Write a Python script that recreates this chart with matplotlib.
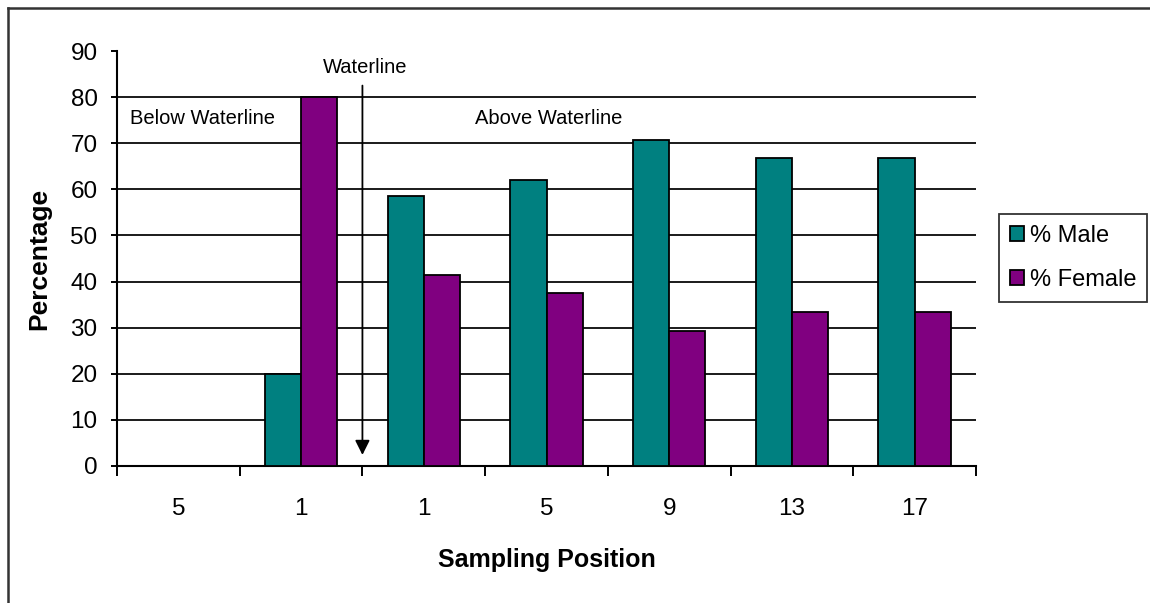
import numpy as np
import matplotlib.pyplot as plt
from matplotlib.lines import Line2D
from matplotlib.patches import Patch

plt.rcParams['font.family'] = ['Liberation Sans', 'DejaVu Sans']

positions = ['5', '1', '1', '5', '9', '13', '17']
male = [0, 20, 58.5, 62, 70.7, 66.7, 66.7]
female = [0, 80, 41.5, 37.5, 29.3, 33.3, 33.3]

teal = '#008080'
purple = '#800080'

fig = plt.figure(figsize=(11.5, 6.03), dpi=100)
ax = fig.add_axes([117 / 1150, 1 - 466 / 603, (976 - 117) / 1150, (466 - 51) / 603])

x = np.arange(len(positions))
w = 0.295
ax.bar(x - w / 2, male, w, color=teal, edgecolor='black', linewidth=1.3, zorder=3)
ax.bar(x + w / 2, female, w, color=purple, edgecolor='black', linewidth=1.3, zorder=3)

ax.set_xlim(-0.5, len(positions) - 0.5)
ax.set_ylim(0, 90)
ax.set_yticks(np.arange(0, 91, 10))
for v in range(10, 90, 10):
    ax.axhline(v, color='#1a1a1a', linewidth=1.4, zorder=1)

ax.set_xticks(x)
ax.set_xticklabels(positions)
ax.set_xticks(np.arange(-0.5, len(positions)), minor=True)
ax.tick_params(axis='x', which='major', length=0, pad=23, labelsize=17.5)
ax.tick_params(axis='x', which='minor', length=7, width=1.4, direction='out')
ax.tick_params(axis='y', length=4, width=1.4, pad=10, labelsize=17.5)

for s in ['top', 'right']:
    ax.spines[s].set_visible(False)
for s in ['left', 'bottom']:
    ax.spines[s].set_linewidth(1.5)

ax.set_xlabel('Sampling Position', fontsize=18, fontweight='bold', labelpad=20)
ax.set_ylabel('Percentage', fontsize=19, fontweight='bold', labelpad=14)

# waterline marker
ax.annotate('', xy=(1.5, 2.4), xytext=(1.5, 82.5),
            arrowprops=dict(arrowstyle='-|>', color='black', lw=1.3,
                            mutation_scale=22, shrinkA=0, shrinkB=0),
            zorder=4)
ax.text(1.52, 86.5, 'Waterline', ha='center', va='center', fontsize=14.5)
ax.text(0.2, 75.3, 'Below Waterline', ha='center', va='center', fontsize=14.5)
ax.text(3.02, 75.3, 'Above Waterline', ha='center', va='center', fontsize=14.5)

handles = [Patch(facecolor=teal, edgecolor='black', linewidth=1.3),
           Patch(facecolor=purple, edgecolor='black', linewidth=1.3)]
leg = fig.legend(handles, ['% Male', '% Female'], loc='center left',
                 bbox_to_anchor=(999 / 1150, 1 - 258 / 603), fontsize=17,
                 frameon=True, fancybox=False, edgecolor='black',
                 handlelength=0.6, handleheight=0.6, handletextpad=0.25,
                 borderpad=0.45, labelspacing=0.95, borderaxespad=0)
leg.get_frame().set_linewidth(1.3)

# outer chart border (top and left visible)
fig.add_artist(Line2D([8 / 1150, 1.0], [1 - 8 / 603, 1 - 8 / 603],
                      color='#333333', linewidth=1.8, transform=fig.transFigure))
fig.add_artist(Line2D([8 / 1150, 8 / 1150], [0.0, 1 - 8 / 603],
                      color='#333333', linewidth=1.8, transform=fig.transFigure))

fig.savefig('out.png', dpi=100)
